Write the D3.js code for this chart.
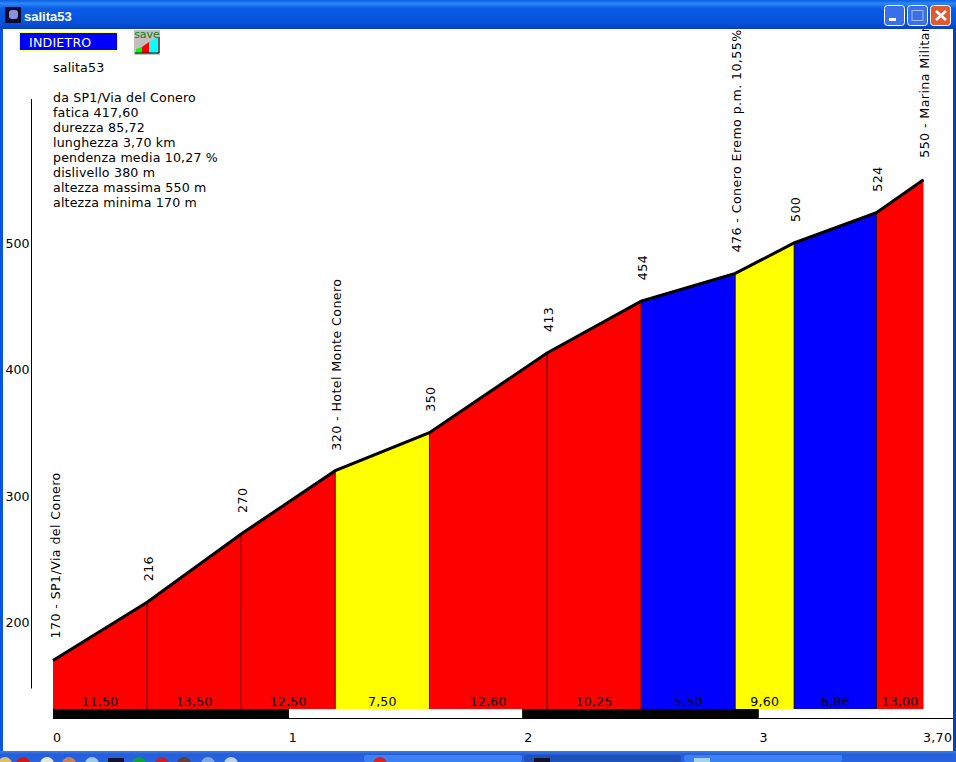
<!DOCTYPE html>
<html><head><meta charset="utf-8">
<script src="https://d3js.org/d3.v7.min.js"></script>
<style>html,body{margin:0;padding:0;background:#fff;overflow:hidden}svg{display:block}text{font-family:"DejaVu Sans",sans-serif;fill:#000}</style>
</head><body><svg id="c" width="956" height="762"></svg>
<script>
const distances=[0,0.4,0.8,1.2,1.6,2.1,2.5,2.9,3.15,3.5,3.7];
const elevations=[170,216,270,320,350,413,454,476,500,524,550];
const pointLabels=["170 - SP1/Via del Conero","216","270","320 - Hotel Monte Conero","350","413","454","476 - Conero Eremo p.m. 10,55%","500","524","550 - Marina Militare"];
const gradients=["11,50","13,50","12,50","7,50","12,60","10,25","5,50","9,60","6,86","13,00"];
const segmentColors=["#ff0000","#ff0000","#ff0000","#ffff00","#ff0000","#ff0000","#0000ff","#ffff00","#0000ff","#ff0000"];
const elevationTicks=[200,300,400,500];
const kmTicks=[0,1,2,3];
const endLabel="3,70";
const infoLines=["salita53","","da SP1/Via del Conero","fatica 417,60","durezza 85,72","lunghezza 3,70 km","pendenza media 10,27 %","dislivello 380 m","altezza massima 550 m","altezza minima 170 m"];
const windowTitle="salita53";
const backLabel="INDIETRO";
const scaleBands=[[0,1.003],[1.994,3]];

const svg=d3.select("#c");
const x=d3.scaleLinear().domain([0,3.7]).range([53,923.5]);
const y=d3.scaleLinear().domain([200,500]).range([622.5,243]);
const baseY=709;
const font=12.6;
const defs=svg.append("defs");

// back button & save icon
svg.append("rect").attr("x",19.5).attr("y",32.5).attr("width",98).attr("height",18).attr("fill","#0000ff").attr("stroke","#ffff66");
svg.append("text").attr("x",29).attr("y",47).attr("font-size",font).attr("letter-spacing",0.2).style("fill","#fff").text(backLabel);
svg.append("rect").attr("x",134).attr("y",30).attr("width",26).attr("height",25).attr("fill","#c0c0c0");
svg.append("path").attr("d","M136 53V49L142 47V53Z").attr("fill","#00ff00");
svg.append("path").attr("d","M142 53V47L149 42V53Z").attr("fill","#ff0000");
svg.append("path").attr("d","M149 53V42L158 37V53Z").attr("fill","#00ffff");
svg.append("path").attr("d","M135 53H159V37").attr("fill","none").attr("stroke","#000");
svg.append("text").attr("x",147).attr("y",38).attr("text-anchor","middle").attr("font-size",11).style("fill","#1c7a1c").text("save");

// info text
svg.append("g").selectAll("text").data(infoLines).join("text").attr("x",53).attr("y",(d,i)=>72+i*15).attr("font-size",font).attr("letter-spacing",0.18).text(d=>d);

// elevation axis
const yAxis=svg.append("g");
yAxis.append("line").attr("x1",31.5).attr("x2",31.5).attr("y1",99).attr("y2",688.5).attr("stroke","#000");
elevationTicks.forEach(t=>yAxis.append("text").attr("x",5.5).attr("y",y(t)+4.5).attr("font-size",font).text(t));

// segments
const seg=d3.range(gradients.length);
svg.append("g").selectAll("path").data(seg).join("path")
 .attr("d",i=>`M${x(distances[i])},${baseY}L${x(distances[i])},${y(elevations[i])}L${x(distances[i+1])},${y(elevations[i+1])}L${x(distances[i+1])},${baseY}Z`)
 .attr("fill",i=>segmentColors[i]);
svg.append("g").selectAll("line").data(distances.slice(1,-1)).join("line")
 .attr("x1",d=>x(d)).attr("x2",d=>x(d)).attr("y1",(d,i)=>y(elevations[i+1])).attr("y2",baseY).attr("stroke","#000").attr("stroke-width",0.8);
svg.append("path").datum(distances.map((d,i)=>[d,elevations[i]]))
 .attr("d",d3.line().x(d=>x(d[0])).y(d=>y(d[1]))).attr("fill","none").attr("stroke","#000").attr("stroke-width",3);

// gradient labels
svg.append("g").selectAll("text").data(seg).join("text")
 .attr("x",i=>(x(distances[i])+x(distances[i+1]))/2).attr("y",706).attr("text-anchor","middle").attr("font-size",font).attr("letter-spacing",0.2)
 .text(i=>gradients[i]);

// rotated point labels
svg.append("g").selectAll("text").data(pointLabels).join("text")
 .attr("transform",(d,i)=>`translate(${x(distances[i])+(i==distances.length-1?5:i==0?7:6)},${y(elevations[i])-(i==0?22:i==distances.length-1?22:i==3?20:21)}) rotate(-90)`)
 .attr("font-size",font).attr("letter-spacing",0.42).text(d=>d);

// km scale bar
const bar=svg.append("g");
bar.append("line").attr("x1",53).attr("x2",953).attr("y1",718.5).attr("y2",718.5).attr("stroke","#000");
bar.selectAll("rect").data(scaleBands).join("rect").attr("x",d=>x(d[0])).attr("width",d=>x(d[1])-x(d[0])).attr("y",709).attr("height",10).attr("fill","#000");
svg.append("g").selectAll("text").data(kmTicks).join("text").attr("x",d=>x(d)+(d==0?0:0.6)).attr("y",742).attr("font-size",font).text(d=>d);
svg.append("text").attr("x",923).attr("y",742).attr("font-size",font).attr("letter-spacing",0.3).text(endLabel);

// window chrome, on top of the drawing
const tg=defs.append("linearGradient").attr("id","tb").attr("x1",0).attr("y1",0).attr("x2",0).attr("y2",1);
[[0,"#0a5fe0"],[0.12,"#2c87f5"],[0.3,"#0a5ce6"],[0.8,"#0552d8"],[1,"#0a3fc0"]].forEach(d=>tg.append("stop").attr("offset",d[0]).attr("stop-color",d[1]));
svg.append("rect").attr("x",0).attr("y",0).attr("width",956).attr("height",29).attr("fill","url(#tb)");
svg.append("rect").attr("x",0).attr("y",29).attr("width",3).attr("height",723).attr("fill","#0a55dd");
svg.append("rect").attr("x",953).attr("y",29).attr("width",3).attr("height",723).attr("fill","#0a3fb0");
svg.append("text").attr("x",24).attr("y",21).attr("font-size",13).attr("font-weight","bold").style("font-family","'Liberation Sans',sans-serif").style("fill","#fff").text(windowTitle);
svg.append("rect").attr("x",5).attr("y",7).attr("width",16).attr("height",16).attr("fill","#0a0a30");
svg.append("rect").attr("x",9).attr("y",10).attr("width",9).attr("height",9).attr("rx",3).attr("fill","#8f8fd8");
[[884.5,"#3a6fe8"],[907.5,"#3a6fe8"],[930.5,"#dd5a32"]].forEach(d=>svg.append("rect").attr("x",d[0]).attr("y",5.5).attr("width",20).attr("height",20).attr("rx",3).attr("fill",d[1]).attr("stroke","#fff"));
svg.append("rect").attr("x",889).attr("y",18).attr("width",7).attr("height",3).attr("fill","#fff");
svg.append("rect").attr("x",912).attr("y",10.5).attr("width",11).attr("height",10).attr("fill","none").attr("stroke","#9fbcf5");
svg.append("path").attr("d","M936 11L946 20M946 11L936 20").attr("stroke","#fff").attr("stroke-width",2.6);

// taskbar
const bg=defs.append("linearGradient").attr("id","tk").attr("x1",0).attr("y1",0).attr("x2",0).attr("y2",1);
[[0,"#3f7fe8"],[0.3,"#245edb"],[1,"#2a63dd"]].forEach(d=>bg.append("stop").attr("offset",d[0]).attr("stop-color",d[1]));
svg.append("rect").attr("x",0).attr("y",751).attr("width",956).attr("height",11).attr("fill","url(#tk)");
[[364,158,"#3c81f3"],[524,157,"#1e52b7"],[684,158,"#3c81f3"]].forEach(d=>svg.append("rect").attr("x",d[0]).attr("y",755).attr("width",d[1]).attr("height",7).attr("rx",2).attr("fill",d[2]));
[[5,"#d8c070"],[23,"#d01818"],[47,"#e8e8e8"],[69,"#c88060"],[92,"#a0c8f0"],[139,"#10a040"],[162,"#c02030"],[184,"#604030"],[208,"#80a8e0"],[231,"#c0d0f0"],[380,"#e02020"]]
 .forEach(d=>svg.append("circle").attr("cx",d[0]).attr("cy",764).attr("r",7).attr("fill",d[1]));
svg.append("rect").attr("x",108).attr("y",758).attr("width",16).attr("height",4).attr("fill","#101030");
svg.append("rect").attr("x",534).attr("y",758).attr("width",16).attr("height",4).attr("fill","#101030");
svg.append("rect").attr("x",694).attr("y",758).attr("width",16).attr("height",4).attr("fill","#a8d0f0");
</script></body></html>
